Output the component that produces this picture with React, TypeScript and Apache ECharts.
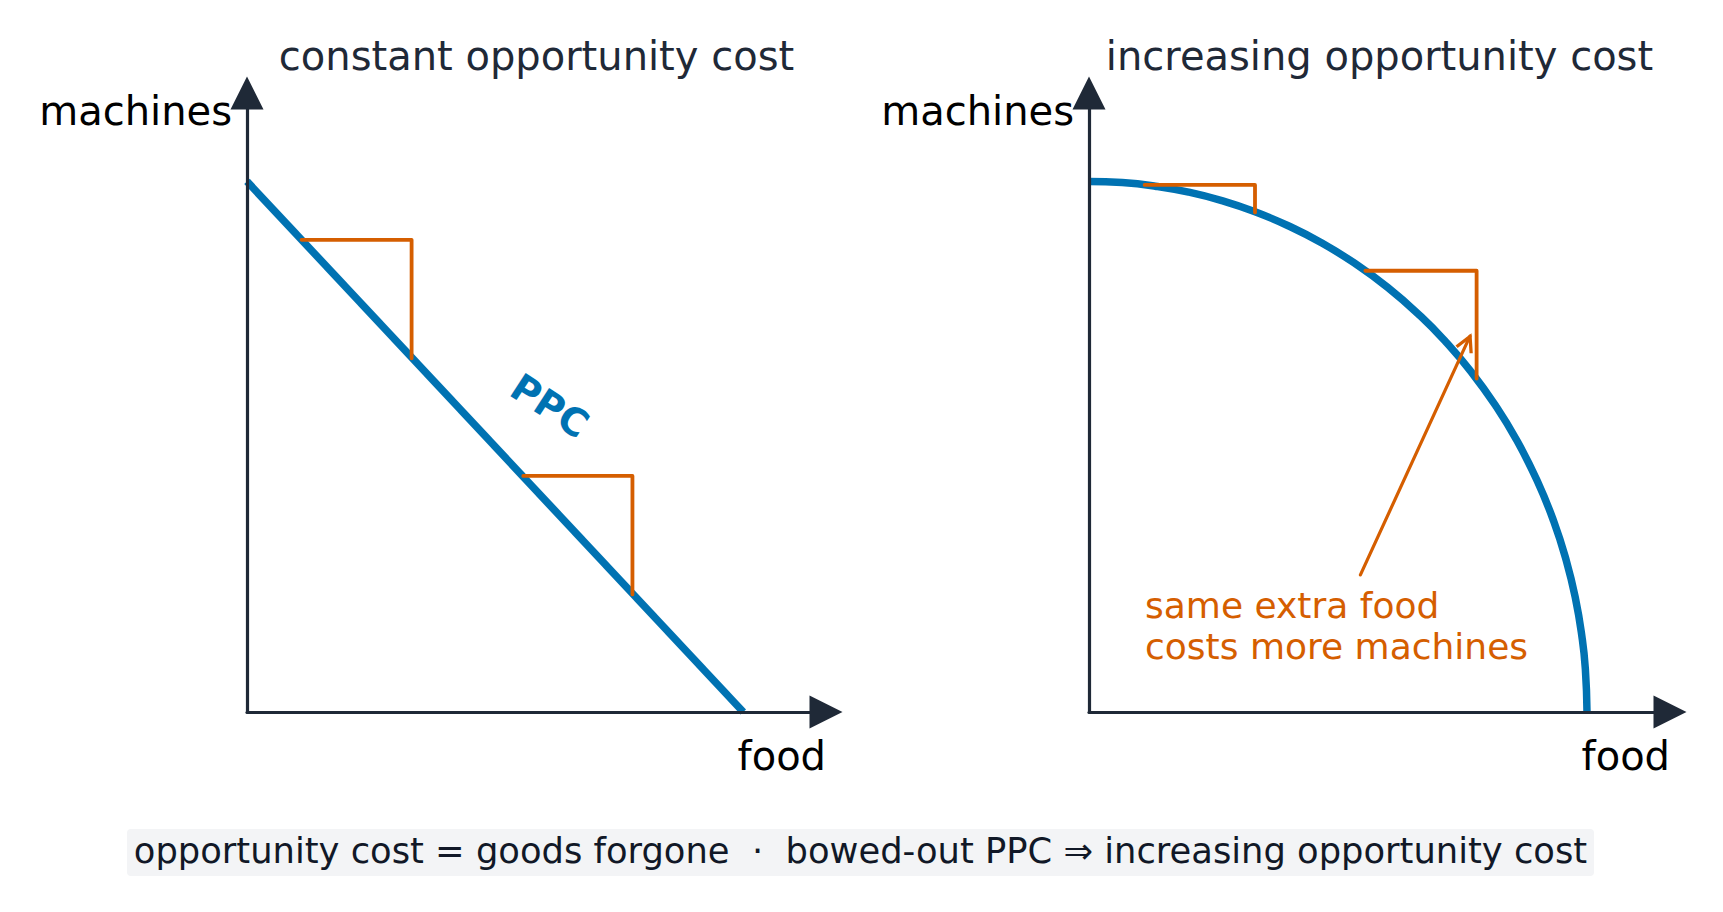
import { useEffect, useRef } from 'react';
import * as echarts from 'echarts';

// both panels share the same 0..7 axes (arrow tip sits at 7)
const AXIS_MAX = 7;

// left panel: straight-line PPC
const linearPpc = [
  [0, 6],
  [6, 0],
];
const linearStepA = [
  [0.66, 5.34],
  [1.99, 5.34],
  [1.99, 4.0],
];
const linearStepB = [
  [3.34, 2.67],
  [4.66, 2.67],
  [4.66, 1.33],
];
const ppcLabelPoint = [[3.66, 3.46]];

// right panel: bowed-out PPC
const bowedPpc = [
  [0, 6],
  [0.4, 5.987],
  [0.8, 5.946],
  [1.2, 5.879],
  [1.6, 5.783],
  [2.0, 5.657],
  [2.4, 5.499],
  [2.8, 5.307],
  [3.2, 5.075],
  [3.6, 4.8],
  [4.0, 4.472],
  [4.3, 4.184],
  [4.6, 3.852],
  [4.9, 3.463],
  [5.15, 3.079],
  [5.4, 2.615],
  [5.6, 2.154],
  [5.75, 1.714],
  [5.86, 1.289],
  [5.94, 0.846],
  [5.98, 0.49],
  [6, 0],
];
const bowedStepA = [
  [0.67, 5.96],
  [2.0, 5.96],
  [2.0, 5.65],
];
const bowedStepB = [
  [3.33, 4.99],
  [4.67, 4.99],
  [4.67, 3.77],
];
const noteArrow = [
  [3.27, 1.55],
  [4.59, 4.25],
];

const panelTitles = ['constant opportunity cost', 'increasing opportunity cost'];
const yAxisName = 'machines';
const xAxisName = 'food';
const noteLines = ['same extra food', 'costs more machines'];
const footerText =
  'opportunity cost = goods forgone  ·  bowed-out PPC ⇒ increasing opportunity cost';

const BLUE = '#0072B2';
const ORANGE = '#D55E00';
const AXIS_COLOR = '#1f2937';
const FONT = '"DejaVu Sans", sans-serif';

// grid boxes in px (left, width); shared top/height
const panels = [
  { left: 247, width: 579 },
  { left: 1089, width: 581 },
];
const GRID_TOP = 93;
const GRID_HEIGHT = 619;

export default function App() {
  const chartRef = useRef<HTMLDivElement>(null);

  useEffect(() => {
    if (!chartRef.current) return;
    const chart = echarts.init(chartRef.current, null, { renderer: 'svg' });

    const axisBase = (gridIndex: number) => ({
      gridIndex,
      type: 'value',
      min: 0,
      max: AXIS_MAX,
      z: 5,
      axisLine: {
        show: true,
        onZero: false,
        symbol: ['none', 'triangle'],
        symbolSize: [33, 33],
        lineStyle: { color: AXIS_COLOR, width: 3.2 },
      },
      axisTick: { show: false },
      axisLabel: { show: false },
      splitLine: { show: false },
    });

    const ppcLine = (idx: number, data: number[][], smooth: boolean) => ({
      type: 'line',
      xAxisIndex: idx,
      yAxisIndex: idx,
      data,
      smooth,
      symbol: 'none',
      silent: true,
      lineStyle: { color: BLUE, width: 7.5 },
      z: 2,
    });

    const stepLine = (idx: number, data: number[][]) => ({
      type: 'line',
      xAxisIndex: idx,
      yAxisIndex: idx,
      data,
      symbol: 'none',
      silent: true,
      lineStyle: { color: ORANGE, width: 3.8, cap: 'round', join: 'round' },
      z: 3,
    });

    const texts: any[] = [];
    panels.forEach((p, i) => {
      texts.push({
        type: 'text',
        x: p.left + p.width / 2,
        y: 56,
        style: {
          text: panelTitles[i],
          fill: AXIS_COLOR,
          fontSize: 40,
          fontFamily: FONT,
          align: 'center',
          verticalAlign: 'middle',
        },
      });
      texts.push({
        type: 'text',
        x: p.left - 15,
        y: 111,
        style: {
          text: yAxisName,
          fill: '#000',
          fontSize: 40,
          fontFamily: FONT,
          align: 'right',
          verticalAlign: 'middle',
        },
      });
      texts.push({
        type: 'text',
        x: p.left + p.width,
        y: 756,
        style: {
          text: xAxisName,
          fill: '#000',
          fontSize: 40,
          fontFamily: FONT,
          align: 'right',
          verticalAlign: 'middle',
        },
      });
    });

    const option = {
      animation: false,
      grid: panels.map((p) => ({
        left: p.left,
        top: GRID_TOP,
        width: p.width,
        height: GRID_HEIGHT,
      })),
      xAxis: [axisBase(0), axisBase(1)],
      yAxis: [axisBase(0), axisBase(1)],
      series: [
        ppcLine(0, linearPpc, false),
        stepLine(0, linearStepA),
        stepLine(0, linearStepB),
        {
          type: 'scatter',
          xAxisIndex: 0,
          yAxisIndex: 0,
          data: ppcLabelPoint,
          symbolSize: 1,
          silent: true,
          itemStyle: { color: 'rgba(0,0,0,0)', opacity: 1 },
          label: {
            show: true,
            position: 'inside',
            formatter: 'PPC',
            rotate: -33,
            color: BLUE,
            opacity: 1,
            fontSize: 38,
            fontWeight: 'bold',
            fontFamily: FONT,
            align: 'center',
            verticalAlign: 'middle',
          },
        },
        ppcLine(1, bowedPpc, true),
        stepLine(1, bowedStepA),
        stepLine(1, bowedStepB),
        {
          type: 'line',
          xAxisIndex: 1,
          yAxisIndex: 1,
          silent: true,
          z: 4,
          lineStyle: { color: ORANGE, width: 3.2, cap: 'round' },
          itemStyle: { color: 'rgba(0,0,0,0)', borderColor: ORANGE, borderWidth: 3.2 },
          data: [
            { value: noteArrow[0], symbol: 'none' },
            {
              value: noteArrow[1],
              symbol: 'path://M0,15 L8,0 L16,15',
              symbolSize: [16, 15],
              symbolRotate: -24.5,
              symbolOffset: [-3, 7],
            },
          ],
        },
      ],
      graphic: [
        ...texts,
        {
          type: 'text',
          x: 1145,
          y: 585,
          style: {
            text: noteLines.join('\n'),
            fill: ORANGE,
            fontSize: 36,
            lineHeight: 41,
            fontFamily: FONT,
            align: 'left',
            verticalAlign: 'top',
          },
        },
        {
          type: 'rect',
          shape: { x: 127, y: 829, width: 1467, height: 47, r: 4 },
          style: { fill: '#f3f4f6' },
          z: -1,
        },
        {
          type: 'text',
          x: 860.5,
          y: 850,
          style: {
            text: footerText,
            fill: '#111827',
            fontSize: 35.3,
            fontFamily: FONT,
            align: 'center',
            verticalAlign: 'middle',
          },
        },
      ],
    };

    chart.setOption(option as any);

    return () => {
      chart.dispose();
    };
  }, []);

  return (
    <div
      ref={chartRef}
      style={{
        position: 'fixed',
        left: 0,
        top: 0,
        width: '1723px',
        height: '912px',
        background: '#fff',
      }}
    />
  );
}
